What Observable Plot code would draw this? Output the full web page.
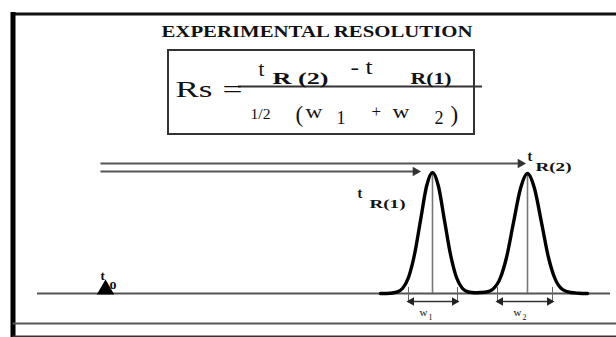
<!DOCTYPE html>
<html><head><meta charset="utf-8">
<script src="https://cdn.jsdelivr.net/npm/d3@7"></script>
<script src="https://cdn.jsdelivr.net/npm/@observablehq/plot@0.6"></script>
<style>body{margin:0;background:#fff}#chart svg{display:block}</style>
</head><body><div id="chart"></div>
<script>
// Chromatogram trace (time units, detector signal units; baseline = 0)
const traceTime   = [380,390,396,402,408,414,420,426,432,438,444,450,456,462,468,474,480,486,492,500,506,513,520,527,534,541,548,554,562,570,578,587];
const traceSignal = [0,0.3,1.3,5,16,39,73,107,121,107,73,39,16,5,1.5,0.8,1,1.5,4,16,36,71,105,120,105,71,36,16,4,1,0.3,0];

// Peaks: retention times, apex heights, base widths (tangent intersections)
const peakNames      = ["1", "2"];
const retentionTimes = [432, 527];
const apexSignal     = [121, 120];
const widthStart     = [408, 497];
const widthEnd       = [457, 552];

// Dead time and the arrows from it to each retention time
const deadTime    = 105;
const arrowStart  = 100;
const arrowLevels = [122, 130];          // level of arrow to tR(1), tR(2)
const arrowEnds   = [419, 524];

// Frame / panel lines (diagram units)
const baselineSpan = [37, 610];
const lowerRule    = -30;
const frameTop     = 279.5;
const frameBottom  = -43;
const frameLeft    = 12.5;
const formulaBox   = {x1: 168, x2: 474, y1: 159, y2: 243};
const fractionBar  = {x1: 238, x2: 482, y: 207};
const widthArrowY  = -8;

// Text annotations: label, anchor (time, signal)
const labels  = ["EXPERIMENTAL RESOLUTION","Rs","=","t","R (2)","- t","R(1)","1/2","(","w","1","+","w","2",")",
                 "t","R(1)","t","R(2)","w","1","w","2","t","o"];
const labelX  = [161,175,222,258,272,350,410,250,295,305,336,371,392,434,450, 357,369,527,535, 419,428,513,522, 100,109];
const labelY  = [257,197,197,218,210,220,210,175,172,176,170,177,176,170,172, 96,86,133,123, -22,-26,-22,-26, 14,5];
const labelSz = [16.5,24,24,21,16,20,16,15.5,23,19,18,17,19,18,23, 14,12,14,12, 11,8,11,8, 13,14];
const labelLen= [311,37,20,0,56,22,41,20,0,17,0,0,17,0,0, 0,36,0,36, 0,0,0,0, 0,0];
const labelBold=[1,0,0,0,1,0,1,0,0,0,0,0,0,0,0, 1,1,1,1, 0,0,0,0, 1,1];

const texts = labels.map((label, i) => ({label, x: labelX[i], y: labelY[i], size: labelSz[i], len: labelLen[i], bold: !!labelBold[i]}));
const trace = traceTime.map((t, i) => ({t, s: traceSignal[i]}));
const peaks = peakNames.map((name, i) => ({name, tR: retentionTimes[i], h: apexSignal[i], w1: widthStart[i], w2: widthEnd[i], lvl: arrowLevels[i], end: arrowEnds[i]}));
const widthHeads = peaks.flatMap(p => [{x: p.w1, dir: -90}, {x: p.w2, dir: 90}]);

const boldTexts = texts.filter(d => d.bold);
const plainTexts = texts.filter(d => !d.bold);
const font = "Liberation Serif, Times New Roman, serif";

const fig = Plot.plot({
  width: 616, height: 337, margin: 0,
  style: {background: "#fff", fontFamily: font},
  x: {domain: [0, 616], axis: null},
  y: {domain: [-44, 293], axis: null},
  marks: [
    // frame
    Plot.ruleY([frameTop], {x1: frameLeft, x2: 616, stroke: "#111", strokeWidth: 3}),
    Plot.ruleX([frameLeft], {y1: frameBottom - 2, y2: frameTop + 1.5, stroke: "#000", strokeWidth: 5}),
    Plot.ruleY([frameBottom], {x1: frameLeft, x2: 616, stroke: "#333", strokeWidth: 2}),
    Plot.ruleY([lowerRule], {x1: frameLeft, x2: 616, stroke: "#555", strokeWidth: 2}),
    // formula box
    Plot.rect([formulaBox], {x1: "x1", x2: "x2", y1: "y1", y2: "y2", fill: "none", stroke: "#333", strokeWidth: 2}),
    Plot.ruleY([fractionBar], {y: "y", x1: "x1", x2: "x2", stroke: "#333", strokeWidth: 2}),
    // baseline
    Plot.ruleY([0], {x1: baselineSpan[0], x2: baselineSpan[1], stroke: "#555", strokeWidth: 2}),
    // retention-time verticals
    Plot.ruleX(peaks, {x: "tR", y1: 0, y2: "h", stroke: "#777", strokeWidth: 1.6}),
    // width tick marks
    Plot.ruleX(peaks.flatMap(p => [p.w1, p.w2]), {x: d => d, y1: 6, y2: -9, stroke: "#666", strokeWidth: 1}),
    // width arrows (double-headed)
    Plot.link(peaks, {x1: "w1", x2: "w2", y1: widthArrowY, y2: widthArrowY, stroke: "#333", strokeWidth: 1.5}),
    Plot.dot(widthHeads, {x: d => d.x - Math.sign(d.dir) * 3, y: widthArrowY, symbol: "triangle", rotate: "dir", r: 3.2, fill: "#222", stroke: "none"}),
    // arrows from dead time to retention times
    Plot.link(peaks, {x1: arrowStart, x2: d => d.end - 4, y1: "lvl", y2: "lvl", stroke: "#555", strokeWidth: 2}),
    Plot.dot(peaks, {x: d => d.end - 4, y: "lvl", symbol: "triangle", rotate: 90, r: 3.6, fill: "#333", stroke: "none"}),
    // chromatogram trace
    Plot.line(trace, {x: "t", y: "s", stroke: "#000", strokeWidth: 3.4, curve: "monotone-x"}),
    // injection marker t0
    Plot.dot([deadTime], {x: d => d, y: 4, symbol: "triangle", r: 5.5, fill: "#000", stroke: "#000"}),
    // text
    Plot.text(plainTexts, {x: "x", y: "y", text: "label", fontSize: d => d.size, textAnchor: "start", lineAnchor: "bottom", fill: "#111"}),
    Plot.text(boldTexts, {x: "x", y: "y", text: "label", fontSize: d => d.size, textAnchor: "start", lineAnchor: "bottom", fill: "#111", fontWeight: "bold"})
  ]
});

// stretch glyphs horizontally where the source lettering is wide
const ordered = [...plainTexts, ...boldTexts];
fig.querySelectorAll("text").forEach((t, i) => {
  const d = ordered[i];
  if (d && d.len && t.textContent === d.label) {
    t.setAttribute("textLength", d.len);
    t.setAttribute("lengthAdjust", "spacingAndGlyphs");
  }
});
document.getElementById("chart").appendChild(fig);
</script>
</body></html>
